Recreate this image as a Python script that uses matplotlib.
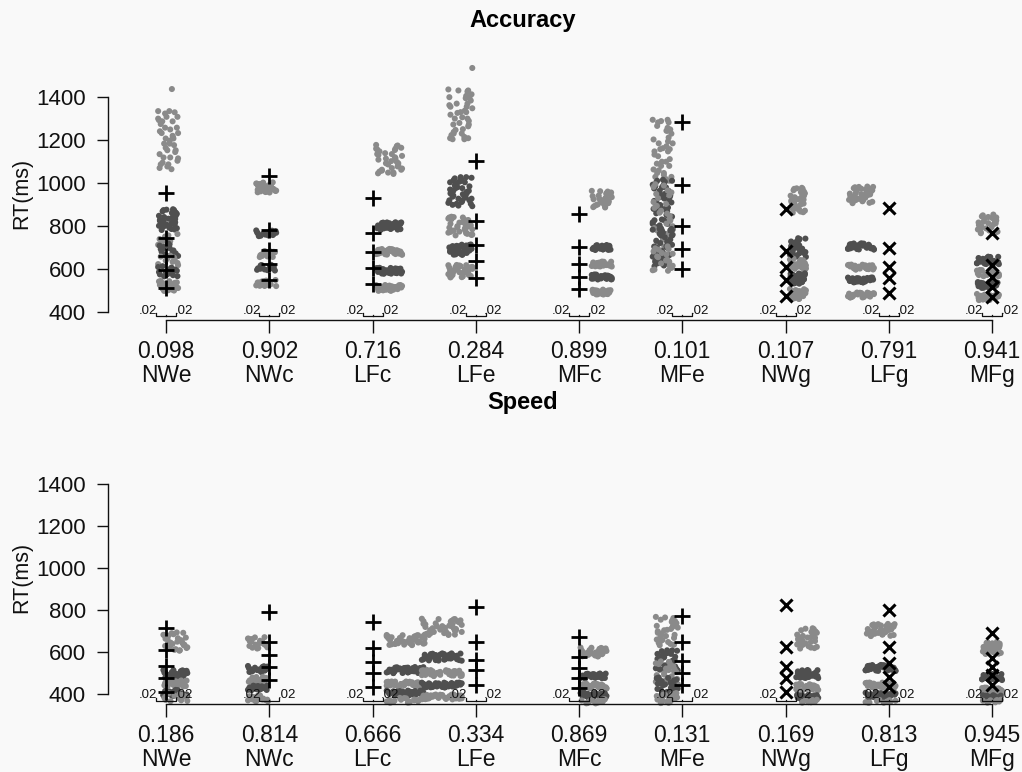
import matplotlib
matplotlib.use('Agg')
import matplotlib.pyplot as plt

plt.rcParams['font.family'] = ['Liberation Sans', 'DejaVu Sans']

# ---------------- data ----------------
groups = ['NWe', 'NWc', 'LFc', 'LFe', 'MFc', 'MFe', 'NWg', 'LFg', 'MFg']
acc_p = ['0.098', '0.902', '0.716', '0.284', '0.899', '0.101', '0.107', '0.791', '0.941']
spd_p = ['0.186', '0.814', '0.666', '0.334', '0.869', '0.131', '0.169', '0.813', '0.945']
marker_kind = ['+', '+', '+', '+', '+', '+', 'x', 'x', 'x']

# model quantile RTs (markers)
acc_q = [[953, 744, 660, 595, 512], [1033, 781, 688, 623, 549], [930, 767, 679, 605, 530],
         [1102, 823, 712, 637, 558], [856, 702, 623, 563, 507], [1284, 991, 800, 693, 600],
         [879, 684, 609, 549, 474], [884, 698, 609, 558, 488], [767, 619, 563, 516, 470]]
spd_q = [[714, 610, 533, 476, 410], [790, 648, 586, 529, 467], [743, 619, 552, 500, 433],
         [814, 648, 562, 514, 443], [671, 576, 524, 476, 429], [771, 648, 557, 500, 443],
         [824, 624, 529, 476, 410], [800, 624, 548, 481, 433], [690, 571, 529, 490, 443]]

# observed RT clouds: (centre RT, half range, count, class 0=light / 1=dark)
acc_NWe = [(1437, 0, 1, 0), (1200, 140, 40, 0), (830, 50, 35, 1), (735, 30, 10, 0),
           (690, 30, 15, 1), (640, 25, 10, 0), (590, 25, 15, 1), (520, 25, 20, 0)]
acc_NWc = [(980, 25, 25, 0), (765, 15, 15, 1), (670, 15, 15, 0), (605, 15, 15, 1), (535, 15, 15, 0)]
acc_LFc = [(1110, 70, 35, 0), (800, 18, 35, 1), (680, 14, 35, 0), (592, 14, 35, 1), (512, 14, 35, 0)]
acc_LFe = [(1535, 0, 1, 0), (1320, 120, 40, 0), (960, 70, 40, 1), (800, 45, 35, 0),
           (690, 25, 35, 1), (590, 30, 35, 0)]
acc_MFc = [(925, 40, 25, 0), (700, 12, 25, 1), (623, 12, 25, 0), (563, 12, 25, 1), (493, 12, 25, 0)]
acc_MFe = [(1150, 150, 40, 0), (900, 120, 50, 1), (850, 150, 30, 0), (700, 90, 40, 1), (650, 60, 20, 0)]
acc_NWg = [(920, 60, 35, 0), (700, 45, 30, 1), (625, 25, 25, 0), (556, 25, 25, 1), (484, 25, 25, 0)]
acc_LFg = [(945, 40, 35, 0), (705, 15, 30, 1), (609, 12, 30, 0), (549, 12, 30, 1), (479, 12, 30, 0)]
acc_MFg = [(810, 45, 25, 0), (640, 18, 25, 1), (581, 15, 25, 0), (526, 15, 25, 1), (470, 15, 25, 0)]

spd_NWe = [(650, 45, 30, 0), (495, 20, 30, 1), (450, 15, 25, 0), (405, 15, 20, 1), (385, 20, 15, 0)]
spd_NWc = [(643, 30, 20, 0), (519, 15, 20, 1), (467, 15, 20, 0), (429, 12, 20, 1), (380, 15, 20, 0)]
spd_LFc = [(657, 25, 40, 0), (514, 15, 40, 1), (448, 12, 40, 0), (405, 12, 40, 1), (370, 12, 20, 0)]
spd_LFe = [(720, 40, 40, 0), (576, 18, 40, 1), (500, 15, 40, 0), (443, 12, 40, 1), (386, 12, 40, 0)]
spd_MFc = [(600, 22, 30, 0), (486, 12, 30, 1), (438, 12, 30, 0), (395, 12, 30, 1), (365, 10, 15, 0)]
spd_MFe = [(700, 70, 30, 0), (560, 50, 35, 1), (500, 60, 25, 0), (440, 40, 25, 1), (380, 25, 20, 0)]
spd_NWg = [(665, 50, 30, 0), (495, 20, 30, 1), (433, 15, 25, 0), (386, 12, 25, 1), (365, 8, 10, 0)]
spd_LFg = [(705, 30, 35, 0), (524, 15, 35, 1), (443, 12, 35, 0), (395, 12, 35, 1), (365, 8, 10, 0)]
spd_MFg = [(620, 30, 25, 0), (481, 15, 25, 1), (419, 12, 25, 0), (385, 10, 20, 1), (365, 8, 10, 0)]

acc_clouds = [acc_NWe, acc_NWc, acc_LFc, acc_LFe, acc_MFc, acc_MFe, acc_NWg, acc_LFg, acc_MFg]
spd_clouds = [spd_NWe, spd_NWc, spd_LFc, spd_LFe, spd_MFc, spd_MFe, spd_NWg, spd_LFg, spd_MFg]

# ---------------- layout / style ----------------
acc_xoff = [0.02, -0.03, 0.16, -0.15, 0.22, -0.19, 0.12, -0.27, -0.04]
acc_xhw = [0.10, 0.10, 0.13, 0.12, 0.10, 0.10, 0.08, 0.13, 0.11]
spd_xoff = [0.09, -0.11, 0.32, -0.33, 0.14, -0.15, 0.21, -0.08, 0.0]
spd_xhw = [0.12, 0.10, 0.19, 0.20, 0.13, 0.11, 0.11, 0.15, 0.10]
shade = ['#8a8a8a', '#4f4f4f']

# fixed jitter pattern (positional spread within a cloud)
JY = [-0.93, 0.41, -0.12, 0.77, -0.58, 0.05, 0.96, -0.34, 0.62, -0.81, 0.23, -0.47, 0.88, -0.02, -0.69,
      0.35, -0.26, 0.71, -0.88, 0.14, 0.53, -0.61, 0.92, -0.17, 0.29, -0.75, 0.66, -0.40, 0.08, -0.97]
JX = [0.37, -0.82, 0.64, -0.15, 0.91, -0.53, 0.12, -0.96, 0.48, 0.03, -0.71, 0.85, -0.29, 0.58, -0.44,
      0.21, -0.88, 0.74, -0.07, 0.33, -0.62, 0.97, -0.38, 0.16, -0.79, 0.52, -0.23, 0.69, -0.56, 0.44]

W, H = 1022, 772
fig = plt.figure(figsize=(W / 100, H / 100), dpi=100)
bg = '#f9f9f9'
fig.patch.set_facecolor(bg)

PX_PER_X = 103.25
XL = (1 + (108 - 166) / PX_PER_X, 1 + (1015 - 166) / PX_PER_X)
INK = '#111111'


def make_axes(top_px, bot_px, ylim):
    ax = fig.add_axes([108 / W, 1 - bot_px / H, 907 / W, (bot_px - top_px) / H])
    ax.set_xlim(*XL)
    ax.set_ylim(*ylim)
    ax.patch.set_alpha(0)
    return ax


def draw_panel(ax, clouds, xoff, xhw, quant, plabels, ylim, text_px, br_px):
    ppy = (ax.get_position().height * H) / (ylim[1] - ylim[0])
    for s in ['top', 'right']:
        ax.spines[s].set_visible(False)
    for s in ['left', 'bottom']:
        ax.spines[s].set_linewidth(1.0)
        ax.spines[s].set_color(INK)
    ax.spines['left'].set_bounds(400, 1400)
    ax.spines['bottom'].set_bounds(1, 9)
    ax.set_yticks([400, 600, 800, 1000, 1200, 1400])
    ax.tick_params(axis='y', length=8, width=1.0, pad=8, labelsize=16, colors=INK)
    ax.tick_params(axis='x', length=9.5, width=1.0, pad=5, labelsize=16.5, colors=INK)
    ax.set_xticks(range(1, 10))
    ax.set_xticklabels([f"{p}\n{g}" for p, g in zip(plabels, groups)], linespacing=1.05)

    for gi, cl in enumerate(clouds):
        cx = gi + 1
        xs, ys, cs = [], [], []
        k = gi * 7
        for (c, h, n, cls) in cl:
            for _ in range(n):
                ys.append(c + h * JY[k % 30])
                xs.append(cx + xoff[gi] + xhw[gi] * JX[(k * 11 + k // 30) % 30])
                cs.append(shade[cls])
                k += 1
        ax.scatter(xs, ys, s=19, c=cs, linewidths=0, zorder=2, clip_on=False)
        mk = marker_kind[gi]
        if mk == '+':
            ax.plot([cx] * 5, quant[gi], ls='none', marker='+', ms=12, mew=2.0, color='black', zorder=3, clip_on=False)
        else:
            ax.plot([cx] * 5, quant[gi], ls='none', marker='x', ms=8.5, mew=2.2, color='black', zorder=3, clip_on=False)
        # small ".02  .02" scale bracket
        ty = ylim[0] + text_px / ppy
        by = ylim[0] + br_px / ppy
        bt = ylim[0] + (br_px + 3.5) / ppy
        dxb = 10 / PX_PER_X
        ax.text(cx - dxb + 0.015, ty, '.02', ha='right', va='center', fontsize=9.5, zorder=4, color=INK)
        ax.text(cx + dxb - 0.015, ty, '.02', ha='left', va='center', fontsize=9.5, zorder=4, color=INK)
        ax.plot([cx - dxb, cx - dxb, cx + dxb, cx + dxb], [bt, by, by, bt], color=INK, lw=0.9,
                zorder=4, clip_on=False)
        ax.plot([cx, cx], [by, by + 1.5 / ppy], color=INK, lw=0.9, zorder=4, clip_on=False)


# Accuracy panel
acc_ylim = (400 - 8 / 0.215, 400 + 252 / 0.215)
ax1 = make_axes(60, 320, acc_ylim)
draw_panel(ax1, acc_clouds, acc_xoff, acc_xhw, acc_q, acc_p, acc_ylim, 9, 3.5)

# Speed panel
spd_ylim = (400 - 10 / 0.21, 400 + 224 / 0.21)
ax2 = make_axes(470, 704, spd_ylim)
draw_panel(ax2, spd_clouds, spd_xoff, spd_xhw, spd_q, spd_p, spd_ylim, 9.5, 3.0)

fig.text(523 / W, 1 - 20 / H, 'Accuracy', ha='center', va='center', fontsize=17, fontweight='bold')
fig.text(523 / W, 1 - 403 / H, 'Speed', ha='center', va='center', fontsize=17, fontweight='bold')
fig.text(22 / W, 1 - 193 / H, 'RT(ms)', ha='center', va='center', rotation=90, fontsize=15.5, color=INK)
fig.text(22 / W, 1 - 577 / H, 'RT(ms)', ha='center', va='center', rotation=90, fontsize=15.5, color=INK)

fig.savefig('out.png', dpi=100, facecolor=bg)
